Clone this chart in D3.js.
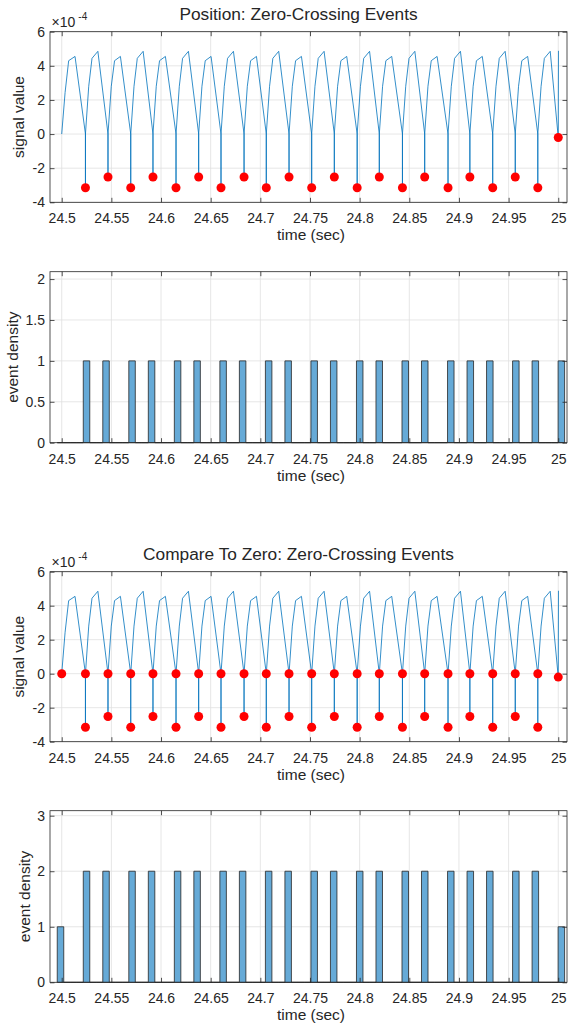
<!DOCTYPE html>
<html><head><meta charset="utf-8">
<script src="https://cdn.jsdelivr.net/npm/d3@7"></script>
<style>
body{margin:0;background:#fff}
svg{display:block}
text{font-family:"Liberation Sans",Arial,Helvetica,sans-serif;fill:#262626}
</style>
</head><body>
<svg id="c" width="568" height="1026"></svg>
<script>
// ---------- data ----------
const xTickValues = [24.5, 24.55, 24.6, 24.65, 24.7, 24.75, 24.8, 24.85, 24.9, 24.95, 25];
const xTickLabels = ["24.5","24.55","24.6","24.65","24.7","24.75","24.8","24.85","24.9","24.95","25"];
const signalTicks = [-4, -2, 0, 2, 4, 6];
const density1Ticks = [0, 0.5, 1, 1.5, 2];
const density2Ticks = [0, 1, 2, 3];

// signal value (x 1e-4) vs time (sec)
const signal = [
[24.5000,0],[24.5034,2.44],[24.5070,4.30],[24.5134,4.55],[24.5239,0],[24.5239,-3.15],[24.5239,0],
[24.5272,2.80],[24.5305,4.44],[24.5364,4.85],[24.5466,0],[24.5466,-2.52],[24.5466,0],
[24.5499,2.80],[24.5532,4.30],[24.5591,4.55],[24.5695,0],[24.5695,-3.15],[24.5695,0],
[24.5728,2.80],[24.5761,4.44],[24.5820,4.85],[24.5919,0],[24.5919,-2.52],[24.5919,0],
[24.5952,2.80],[24.5985,4.30],[24.6044,4.55],[24.6151,0],[24.6151,-3.15],[24.6151,0],
[24.6184,2.80],[24.6217,4.44],[24.6276,4.85],[24.6379,0],[24.6379,-2.52],[24.6379,0],
[24.6412,2.80],[24.6445,4.30],[24.6504,4.55],[24.6604,0],[24.6604,-3.15],[24.6604,0],
[24.6637,2.80],[24.6670,4.44],[24.6729,4.85],[24.6836,0],[24.6836,-2.52],[24.6836,0],
[24.6869,2.80],[24.6902,4.30],[24.6961,4.55],[24.7060,0],[24.7060,-3.15],[24.7060,0],
[24.7093,2.80],[24.7126,4.44],[24.7185,4.85],[24.7289,0],[24.7289,-2.52],[24.7289,0],
[24.7322,2.80],[24.7355,4.30],[24.7414,4.55],[24.7517,0],[24.7517,-3.15],[24.7517,0],
[24.7550,2.80],[24.7583,4.44],[24.7642,4.85],[24.7745,0],[24.7745,-2.52],[24.7745,0],
[24.7778,2.80],[24.7811,4.30],[24.7870,4.55],[24.7975,0],[24.7975,-3.15],[24.7975,0],
[24.8008,2.80],[24.8041,4.44],[24.8100,4.85],[24.8198,0],[24.8198,-2.52],[24.8198,0],
[24.8231,2.80],[24.8264,4.30],[24.8323,4.55],[24.8431,0],[24.8431,-3.15],[24.8431,0],
[24.8464,2.80],[24.8497,4.44],[24.8556,4.85],[24.8655,0],[24.8655,-2.52],[24.8655,0],
[24.8688,2.80],[24.8721,4.30],[24.8780,4.55],[24.8890,0],[24.8890,-3.15],[24.8890,0],
[24.8923,2.80],[24.8956,4.44],[24.9015,4.85],[24.9110,0],[24.9110,-2.52],[24.9110,0],
[24.9143,2.80],[24.9176,4.30],[24.9235,4.55],[24.9340,0],[24.9340,-3.15],[24.9340,0],
[24.9373,2.80],[24.9406,4.44],[24.9465,4.85],[24.9567,0],[24.9567,-2.52],[24.9567,0],
[24.9600,2.80],[24.9633,4.30],[24.9692,4.55],[24.9794,0],[24.9794,-3.15],[24.9794,0],
[24.9827,2.80],[24.9860,4.44],[24.9919,4.85],[25.0000,-0.20],[25.0002,4.88]
];

// "Position" zero-crossing events [time, value]
const positionEvents = [
[24.5239,-3.15],[24.5466,-2.52],[24.5695,-3.15],[24.5919,-2.52],[24.6151,-3.15],[24.6379,-2.52],
[24.6604,-3.15],[24.6836,-2.52],[24.7060,-3.15],[24.7289,-2.52],[24.7517,-3.15],[24.7745,-2.52],
[24.7975,-3.15],[24.8198,-2.52],[24.8431,-3.15],[24.8655,-2.52],[24.8890,-3.15],[24.9110,-2.52],
[24.9340,-3.15],[24.9567,-2.52],[24.9794,-3.15],[25.0000,-0.20]
];

// "Compare To Zero" zero-crossing events [time, value]
const compareEvents = [
[24.5000,0],
[24.5239,0],[24.5239,-3.15],[24.5466,0],[24.5466,-2.52],[24.5695,0],[24.5695,-3.15],
[24.5919,0],[24.5919,-2.52],[24.6151,0],[24.6151,-3.15],[24.6379,0],[24.6379,-2.52],
[24.6604,0],[24.6604,-3.15],[24.6836,0],[24.6836,-2.52],[24.7060,0],[24.7060,-3.15],
[24.7289,0],[24.7289,-2.52],[24.7517,0],[24.7517,-3.15],[24.7745,0],[24.7745,-2.52],
[24.7975,0],[24.7975,-3.15],[24.8198,0],[24.8198,-2.52],[24.8431,0],[24.8431,-3.15],
[24.8655,0],[24.8655,-2.52],[24.8890,0],[24.8890,-3.15],[24.9110,0],[24.9110,-2.52],
[24.9340,0],[24.9340,-3.15],[24.9567,0],[24.9567,-2.52],[24.9794,0],[24.9794,-3.15],
[25.0000,-0.20]
];

// histogram binning
const binStart = 24.4955;
const binWidth = 0.00655;
const binCount = 78;

// ---------- drawing ----------
const svg = d3.select("#c");
const AX = "#262626";
const GRID = "#e0e0e0";
const x = d3.scaleLinear().domain([24.4882, 25.0088]).range([50, 567]);
const thresholds = d3.range(1, binCount).map(i => binStart + i * binWidth);
const binner = d3.bin().domain([binStart, binStart + binCount * binWidth]).thresholds(thresholds);

function styleAxis(sel, fs, hideText) {
  sel.attr("font-family", null).attr("font-size", null);
  sel.select(".domain").remove();
  sel.selectAll(".tick line").attr("stroke", AX).attr("stroke-width", 0.8);
  sel.selectAll(".tick text").attr("fill", AX).style("font-size", fs + "px");
  if (hideText) sel.selectAll(".tick text").remove();
}

function panel(cfg) {
  const y = d3.scaleLinear().domain(cfg.yDomain).range([cfg.bottom, cfg.top]);
  const g = svg.append("g");
  // grid
  g.append("g").selectAll("line").data(xTickValues).join("line")
    .attr("x1", d => x(d)).attr("x2", d => x(d))
    .attr("y1", cfg.top).attr("y2", cfg.bottom)
    .attr("stroke", GRID).attr("stroke-width", 0.8);
  g.append("g").selectAll("line").data(cfg.yTicks).join("line")
    .attr("y1", d => y(d)).attr("y2", d => y(d))
    .attr("x1", 50).attr("x2", 567)
    .attr("stroke", GRID).attr("stroke-width", 0.8);

  cfg.draw(g, y);

  // axes
  const fmt = d => String(d);
  g.append("g").attr("transform", `translate(0,${cfg.bottom})`)
    .call(d3.axisBottom(x).tickValues(xTickValues).tickFormat((d, i) => xTickLabels[i])
      .tickSizeInner(-4.5).tickSizeOuter(0).tickPadding(11))
    .call(s => styleAxis(s, 14, false));
  g.append("g").attr("transform", `translate(0,${cfg.top})`)
    .call(d3.axisTop(x).tickValues(xTickValues).tickSizeInner(-4.5).tickSizeOuter(0))
    .call(s => styleAxis(s, 14, true));
  g.append("g").attr("transform", `translate(50,0)`)
    .call(d3.axisLeft(y).tickValues(cfg.yTicks).tickFormat(fmt)
      .tickSizeInner(-4.5).tickSizeOuter(0).tickPadding(5))
    .call(s => styleAxis(s, 14, false));
  g.append("g").attr("transform", `translate(567,0)`)
    .call(d3.axisRight(y).tickValues(cfg.yTicks).tickSizeInner(-4.5).tickSizeOuter(0))
    .call(s => styleAxis(s, 14, true));
  g.append("rect").attr("x", 50).attr("y", cfg.top)
    .attr("width", 517).attr("height", cfg.bottom - cfg.top)
    .attr("fill", "none").attr("stroke", AX).attr("stroke-width", 0.8);

  // labels
  g.append("text").attr("x", 311).attr("y", cfg.bottom + 38)
    .attr("text-anchor", "middle").style("font-size", "15.5px").text("time (sec)");
  g.append("text").attr("transform", `translate(${cfg.yLabelX},${(cfg.top + cfg.bottom) / 2}) rotate(-90)`)
    .attr("text-anchor", "middle").style("font-size", "15.5px").text(cfg.yLabel);
  if (cfg.title) {
    g.append("text").attr("x", 298.5).attr("y", cfg.top - 11.7)
      .attr("text-anchor", "middle").style("font-size", "17.3px").text(cfg.title);
  }
  if (cfg.exponent) {
    g.append("text").attr("x", 51.5).attr("y", cfg.top - 4.5)
      .style("font-size", "14px").text("×10");
    g.append("text").attr("x", 78.3).attr("y", cfg.top - 11.5)
      .style("font-size", "10px").text("-4");
  }
}

function drawSignal(events) {
  return (g, y) => {
    g.append("path").datum(signal)
      .attr("d", d3.line().x(d => x(d[0])).y(d => y(d[1])))
      .attr("fill", "none").attr("stroke", "#0072BD").attr("stroke-width", 0.8)
      .attr("stroke-linejoin", "round");
    g.append("g").selectAll("circle").data(events).join("circle")
      .attr("cx", d => x(d[0])).attr("cy", d => y(d[1])).attr("r", 4.5)
      .attr("fill", "#ff0000");
  };
}

function drawHist(events) {
  return (g, y) => {
    const bins = binner(events.map(d => d[0]));
    g.append("g").selectAll("path").data(bins).join("path")
      .attr("d", b => `M${x(b.x0)},${y(0)}V${y(b.length)}H${x(b.x1)}V${y(0)}Z`)
      .attr("fill", "#66aad7").attr("stroke", AX).attr("stroke-width", 0.8);
  };
}

panel({top: 31.7, bottom: 202.3, yDomain: [-4, 6], yTicks: signalTicks,
  yLabel: "signal value", yLabelX: 24, title: "Position: Zero-Crossing Events",
  exponent: true, draw: drawSignal(positionEvents)});
panel({top: 271.7, bottom: 442.7, yDomain: [0, 2.09], yTicks: density1Ticks,
  yLabel: "event density", yLabelX: 18, draw: drawHist(positionEvents)});
panel({top: 571.7, bottom: 741.7, yDomain: [-4, 6], yTicks: signalTicks,
  yLabel: "signal value", yLabelX: 24, title: "Compare To Zero: Zero-Crossing Events",
  exponent: true, draw: drawSignal(compareEvents)});
panel({top: 810.7, bottom: 982.3, yDomain: [0, 3.09], yTicks: density2Ticks,
  yLabel: "event density", yLabelX: 30, draw: drawHist(compareEvents)});
</script>
</body></html>
